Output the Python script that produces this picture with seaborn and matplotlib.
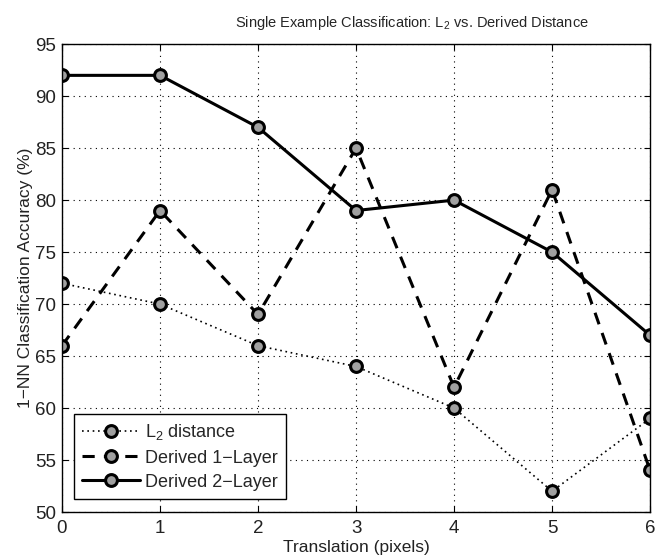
import numpy as np
import pandas as pd
import seaborn as sns
import matplotlib
matplotlib.use('Agg')
import matplotlib.pyplot as plt

translation = [0, 1, 2, 3, 4, 5, 6]
l2_acc = [72, 70, 66, 64, 60, 52, 59]
derived1_acc = [66, 79, 69, 85, 62, 81, 54]
derived2_acc = [92, 92, 87, 79, 80, 75, 67]
labels = ['L$_2$ distance', 'Derived 1\u2212Layer', 'Derived 2\u2212Layer']

df = pd.DataFrame({
    'x': translation * 3,
    'acc': l2_acc + derived1_acc + derived2_acc,
    'series': [labels[0]] * 7 + [labels[1]] * 7 + [labels[2]] * 7,
})

sns.set_style('ticks')
plt.rcParams['font.family'] = ['Liberation Sans', 'DejaVu Sans']
plt.rcParams['mathtext.fontset'] = 'custom'
plt.rcParams['mathtext.rm'] = 'Liberation Sans'

fig = plt.figure(figsize=(6.56, 5.59), dpi=100)
# axes box: x 62..650 px, y 44..512 px
ax = fig.add_axes([0.0945, 0.084, 0.8965, 0.837])

styles = {labels[0]: ((0, (1, 2.2)), 1.2),
          labels[1]: ((0, (4, 3)), 2.2),
          labels[2]: ('-', 2.2)}

for name in labels:
    sub = df[df['series'] == name]
    ls, lw = styles[name]
    sns.lineplot(data=sub, x='x', y='acc', ax=ax, color='black', linestyle=ls,
                 linewidth=lw, marker='o', markersize=8.5, markerfacecolor='#a0a0a0',
                 markeredgecolor='black', markeredgewidth=2.2, label=name)

ax.set_xlim(0, 6)
ax.set_ylim(50, 95)
ax.set_xticks(range(0, 7))
ax.set_yticks(range(50, 96, 5))
ax.grid(True, color='black', linestyle=(0, (1, 4)), linewidth=0.8)
for s in ax.spines.values():
    s.set_visible(True)
    s.set_color('black')
    s.set_linewidth(1)
ax.tick_params(direction='in', length=4, labelsize=13.5, top=True, right=True,
               labelcolor='#222222', colors='black')
ax.tick_params(axis='x', pad=6)
ax.tick_params(axis='y', pad=4)
ax.set_xlabel('Translation (pixels)', fontsize=12.5, labelpad=2, color='#222222')
ax.set_ylabel('1\u2212NN Classification Accuracy (%)', fontsize=12.5, labelpad=2,
              color='#222222')
ax.set_title('Single Example Classification: L$_2$ vs. Derived Distance',
             fontsize=10.5, pad=12, x=0.595)

leg = ax.legend(loc='lower left', bbox_to_anchor=(0.0204, 0.028), fontsize=13,
                frameon=True, fancybox=False, edgecolor='black', framealpha=1,
                handlelength=3.2, borderpad=0.45, labelspacing=0.4,
                borderaxespad=0, handletextpad=0.3)
leg.get_frame().set_linewidth(1)

fig.savefig('out.png', dpi=100)
